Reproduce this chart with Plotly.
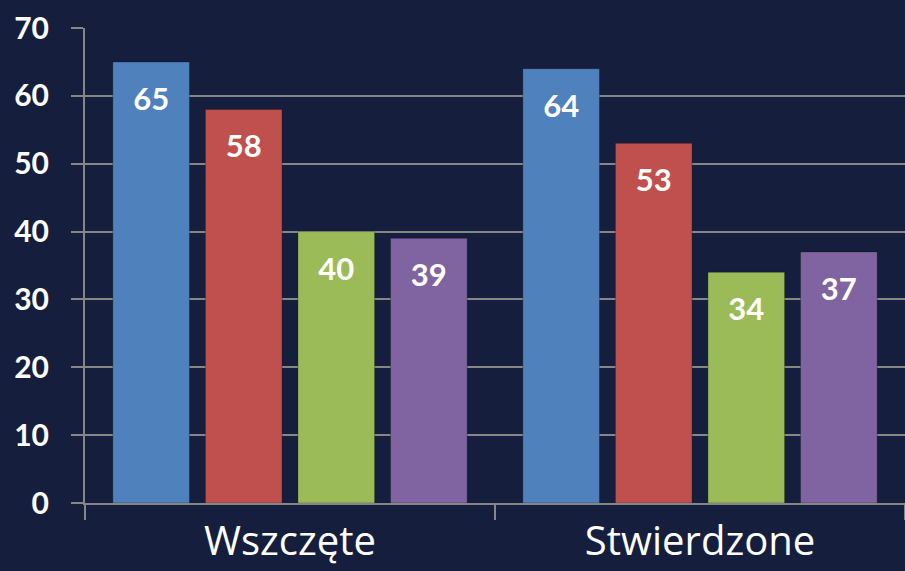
import plotly.graph_objects as go

categories = ["Wszczęte", "Stwierdzone"]
series_a = [65, 64]
series_b = [58, 53]
series_c = [40, 34]
series_d = [39, 37]
colors = ["#4F81BD", "#C0504D", "#9BBB59", "#8064A2"]
y_ticks = [0, 10, 20, 30, 40, 50, 60, 70]

fig = go.Figure()
groups = ["a", "b", "c", "d"]
all_series = [series_a, series_b, series_c, series_d]
for vals, col, g in zip(all_series, colors, groups):
    fig.add_trace(go.Bar(
        x=categories, y=vals, offsetgroup=g,
        marker=dict(color=col, line=dict(color="rgba(0,0,0,0.25)", width=1)),
        hoverinfo="skip",
    ))
for vals, g in zip(all_series, groups):
    fig.add_trace(go.Scatter(
        x=categories, y=vals, offsetgroup=g, mode="markers+text",
        marker=dict(size=38, opacity=0),
        text=[str(v) for v in vals], textposition="bottom center",
        textfont=dict(color="white", size=31, family="Lato", weight="bold"),
        cliponaxis=False,
    ))

bg = "#151F3D"
fig.update_layout(
    width=905, height=571,
    paper_bgcolor=bg, plot_bgcolor=bg,
    margin=dict(l=85, r=0, t=28, b=68),
    showlegend=False,
    bargap=0.097, bargroupgap=0.172,
    barmode="group", scattermode="group", scattergap=0.097,
)
fig.update_xaxes(
    showgrid=False, showline=True, linecolor="#868686", linewidth=2,
    ticks="outside", tickson="boundaries", ticklen=15, tickcolor="#868686", tickwidth=2,
    tickfont=dict(color="white", size=40, family="Open Sans"),
    ticklabelstandoff=2, automargin=False,
)
fig.update_yaxes(
    range=[0, 70], tickvals=y_ticks, showgrid=True, gridcolor="#868686", gridwidth=2,
    zeroline=False, showline=True, linecolor="#868686", linewidth=2,
    ticks="outside", ticklen=12, tickcolor="#868686", tickwidth=2,
    tickfont=dict(color="white", size=30, family="Lato", weight="bold"),
    ticklabelstandoff=16, automargin=False,
)
fig.write_html("out.html", config={"displayModeBar": False},
               post_script="document.body.style.margin='0';document.body.style.background='" + bg + "';")
